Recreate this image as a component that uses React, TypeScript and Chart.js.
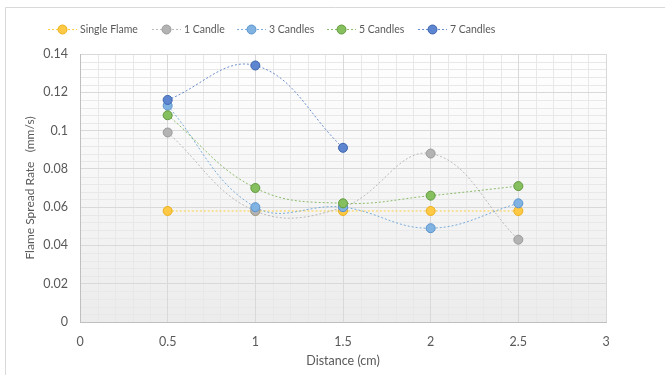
import React, { useEffect, useRef } from "react";
import { Chart, registerables } from "chart.js";

Chart.register(...registerables);

// Distance along the sample (cm)
const DISTANCES = [0.5, 1, 1.5, 2, 2.5];

// Flame spread rate (mm/s) per configuration
const SINGLE_FLAME = [0.058, 0.058, 0.058, 0.058, 0.058];
const ONE_CANDLE = [0.099, 0.058, 0.06, 0.088, 0.043];
const THREE_CANDLES = [0.113, 0.06, 0.06, 0.049, 0.062];
const FIVE_CANDLES = [0.108, 0.07, 0.062, 0.066, 0.071];
const SEVEN_CANDLES = [0.116, 0.134, 0.091];

const SERIES_NAMES = ["Single Flame", "1 Candle", "3 Candles", "5 Candles", "7 Candles"];

const X_TICKS = [0, 0.5, 1, 1.5, 2, 2.5, 3];
const Y_TICKS = [0, 0.02, 0.04, 0.06, 0.08, 0.1, 0.12, 0.14];

const X_TITLE = "Distance (cm)";
const Y_TITLE = "Flame Spread Rate   (mm/s)";

const STYLES = [
  { line: "rgba(255,192,0,0.75)", fill: "#FFC845", border: "#EBB01C" },
  { line: "rgba(165,165,165,0.75)", fill: "#B3B3B3", border: "#9A9A9A" },
  { line: "rgba(91,155,213,0.8)", fill: "#80B3E2", border: "#5B93CC" },
  { line: "rgba(112,173,71,0.8)", fill: "#85BF5E", border: "#62993F" },
  { line: "rgba(68,114,196,0.8)", fill: "#5E86D0", border: "#3E64AE" },
];

const FONT = "Lato, 'Open Sans', sans-serif";
const TEXT_COLOR = "#595959";

// legend item left edges (marker line start)
const LEGEND_X = [48, 152, 237, 327, 418];
const LEGEND_Y = 29;

const toPoints = (ys: number[]) => ys.map((y, i) => ({ x: DISTANCES[i], y }));

const frameAndMinorGrid = {
  id: "frameAndMinorGrid",
  beforeDraw(chart: any) {
    const { ctx, chartArea: a, scales } = chart;
    ctx.save();
    // outer frame
    ctx.strokeStyle = "#d9d9d9";
    ctx.lineWidth = 1;
    ctx.beginPath();
    ctx.moveTo(5.5, 375);
    ctx.lineTo(5.5, 7.5);
    ctx.lineTo(665, 7.5);
    ctx.stroke();

    // plot background
    const g = ctx.createLinearGradient(0, a.top, 0, a.bottom);
    g.addColorStop(0, "#ffffff");
    g.addColorStop(1, "#ececec");
    ctx.fillStyle = g;
    ctx.fillRect(a.left, a.top, a.right - a.left, a.bottom - a.top);

    // minor grid
    ctx.strokeStyle = "#e8e8e8";
    ctx.lineWidth = 1;
    ctx.beginPath();
    for (let i = 1; i < 30; i++) {
      if (i % 5 === 0) continue;
      const x = Math.round(scales.x.getPixelForValue(i / 10)) + 0.5;
      ctx.moveTo(x, a.top);
      ctx.lineTo(x, a.bottom);
    }
    for (let j = 1; j < 35; j++) {
      if (j % 5 === 0) continue;
      const y = Math.round(scales.y.getPixelForValue(j * 0.004)) + 0.5;
      ctx.moveTo(a.left, y);
      ctx.lineTo(a.right, y);
    }
    ctx.stroke();
    ctx.restore();
  },
  afterDraw(chart: any) {
    const { ctx } = chart;
    ctx.save();
    ctx.font = `10.5px ${FONT}`;
    ctx.textBaseline = "middle";
    ctx.textAlign = "left";
    SERIES_NAMES.forEach((name, i) => {
      const x0 = LEGEND_X[i];
      const s = STYLES[i];
      ctx.strokeStyle = s.line;
      ctx.lineWidth = 1;
      ctx.setLineDash([2, 2]);
      ctx.beginPath();
      ctx.moveTo(x0, LEGEND_Y + 0.5);
      ctx.lineTo(x0 + 29, LEGEND_Y + 0.5);
      ctx.stroke();
      ctx.setLineDash([]);
      ctx.beginPath();
      ctx.arc(x0 + 14.5, LEGEND_Y + 0.5, 4.5, 0, Math.PI * 2);
      ctx.fillStyle = s.fill;
      ctx.fill();
      ctx.strokeStyle = s.border;
      ctx.stroke();
      ctx.fillStyle = TEXT_COLOR;
      ctx.fillText(name, x0 + 32, LEGEND_Y + 1);
    });
    ctx.restore();
  },
};

export default function App() {
  const ref = useRef<HTMLCanvasElement>(null);

  useEffect(() => {
    document.body.style.margin = "0";
    const seriesData = [SINGLE_FLAME, ONE_CANDLE, THREE_CANDLES, FIVE_CANDLES, SEVEN_CANDLES];
    const chart = new Chart(ref.current!, {
      type: "line",
      data: {
        datasets: seriesData.map((ys, i) => ({
          label: SERIES_NAMES[i],
          data: toPoints(ys),
          order: SERIES_NAMES.length - i,
          borderColor: STYLES[i].line,
          borderWidth: 1,
          borderDash: [2, 2],
          tension: 0.4,
          pointRadius: 4.5,
          pointBorderWidth: 1,
          pointBackgroundColor: STYLES[i].fill,
          pointBorderColor: STYLES[i].border,
          fill: false,
        })),
      },
      options: {
        animation: false,
        responsive: false,
        maintainAspectRatio: false,
        layout: { padding: { top: 54, right: 59, left: 0, bottom: 0 } },
        plugins: { legend: { display: false }, tooltip: { enabled: false } },
        scales: {
          x: {
            type: "linear",
            min: 0,
            max: 3,
            afterBuildTicks: (s: any) => {
              s.ticks = X_TICKS.map((v) => ({ value: v }));
            },
            afterFit: (s: any) => {
              s.height = 53;
            },
            grid: { color: "#d9d9d9", drawTicks: false },
            border: { color: "#bfbfbf" },
            ticks: {
              padding: 12,
              color: TEXT_COLOR,
              font: { family: FONT, size: 12.5 },
              callback: (v: any) => String(v),
            },
            title: {
              display: true,
              text: X_TITLE,
              color: TEXT_COLOR,
              font: { family: FONT, size: 12.5 },
              padding: { top: 0, bottom: 7 },
            },
          },
          y: {
            type: "linear",
            min: 0,
            max: 0.14,
            afterBuildTicks: (s: any) => {
              s.ticks = Y_TICKS.map((v) => ({ value: v }));
            },
            afterFit: (s: any) => {
              s.width = 80;
            },
            grid: { color: "#d9d9d9", drawTicks: false },
            border: { color: "#bfbfbf" },
            ticks: {
              padding: 12,
              color: TEXT_COLOR,
              font: { family: FONT, size: 12.5 },
              callback: (v: any) => String(v),
            },
            title: {
              display: true,
              text: Y_TITLE,
              color: TEXT_COLOR,
              font: { family: FONT, size: 12 },
              padding: { top: 23, bottom: 0 },
            },
          },
        },
      },
      plugins: [frameAndMinorGrid],
    });
    return () => chart.destroy();
  }, []);

  return (
    <div style={{ width: 665, height: 375 }}>
      <canvas ref={ref} width={665} height={375} style={{ display: "block" }} />
    </div>
  );
}
